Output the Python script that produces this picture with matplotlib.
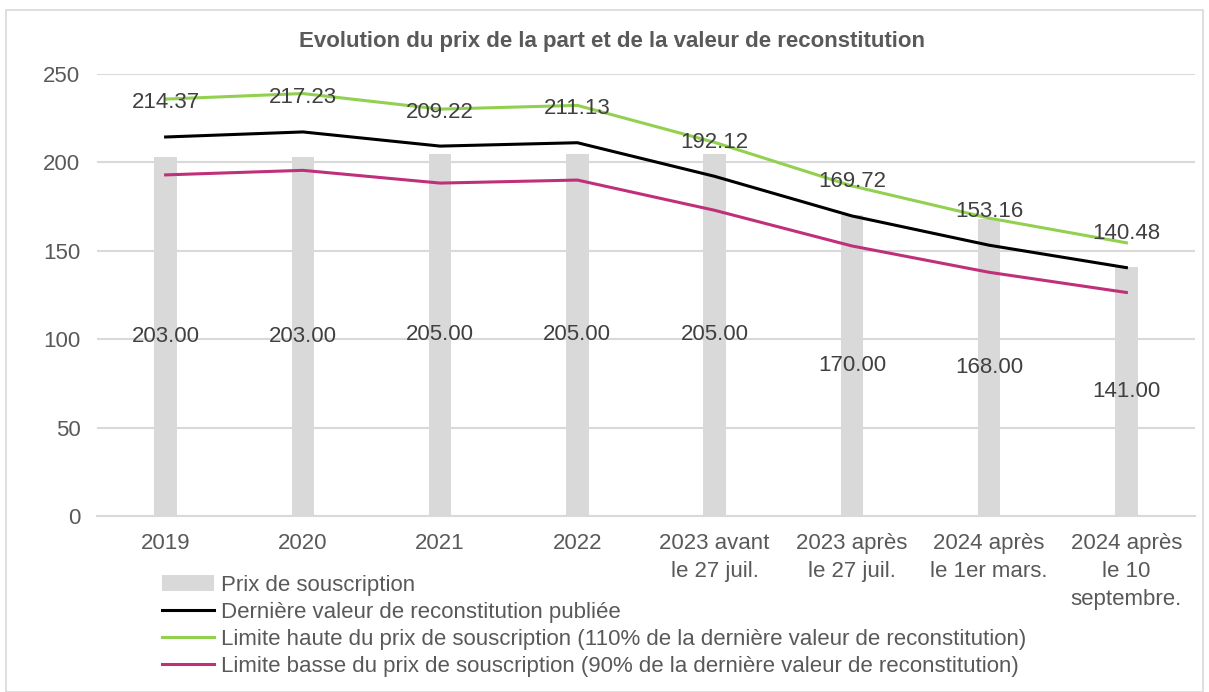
import matplotlib
matplotlib.use("Agg")
import matplotlib.pyplot as plt
import numpy as np

plt.rcParams['font.family'] = ['Liberation Sans', 'DejaVu Sans']

categories = ["2019", "2020", "2021", "2022", "2023 avant\nle 27 juil.",
              "2023 après\nle 27 juil.", "2024 après\nle 1er mars.",
              "2024 après\nle 10\nseptembre."]
prix_souscription = [203.00, 203.00, 205.00, 205.00, 205.00, 170.00, 168.00, 141.00]
valeur_reconstitution = [214.37, 217.23, 209.22, 211.13, 192.12, 169.72, 153.16, 140.48]
limite_haute = [v * 1.10 for v in valeur_reconstitution]
limite_basse = [v * 0.90 for v in valeur_reconstitution]

fig = plt.figure(figsize=(12.09, 6.92), dpi=100)
ax = fig.add_axes([97/1209, 1-516/692, 1098/1209, (516-74)/692])

x = np.arange(len(categories))
ax.bar(x, prix_souscription, width=0.165, color='#d9d9d9', zorder=2,
       label='Prix de souscription')
ax.plot(x, valeur_reconstitution, color='black', lw=2.2, zorder=3,
        label='Dernière valeur de reconstitution publiée')
ax.plot(x, limite_haute, color='#92d050', lw=2.2, zorder=3,
        label='Limite haute du prix de souscription (110% de la dernière valeur de reconstitution)')
ax.plot(x, limite_basse, color='#c0307a', lw=2.2, zorder=3,
        label='Limite basse du prix de souscription (90% de la dernière valeur de reconstitution)')

for xi, v in zip(x, prix_souscription):
    ax.text(xi, v / 2, f"{v:.2f}", ha='center', va='center', fontsize=16,
            color='#404040', zorder=4)
for xi, v in zip(x, valeur_reconstitution):
    ax.annotate(f"{v:.2f}", (xi, v), xytext=(0, 24.5), textcoords='offset points',
                ha='center', va='center', fontsize=16, color='#404040', zorder=4)

ax.set_xlim(-0.5, len(categories) - 0.5)
ax.set_ylim(0, 250)
ax.set_yticks([0, 50, 100, 150, 200, 250])
ax.set_xticks(x)
ax.set_xticklabels(categories, fontsize=16, color='#595959', va='top', linespacing=1.45)
ax.tick_params(axis='y', labelsize=16, labelcolor='#595959', length=0, pad=12)
ax.tick_params(axis='x', length=0, pad=12)
ax.grid(axis='y', color='#d9d9d9', lw=1.5, zorder=0)
for s in ['top', 'right', 'left']:
    ax.spines[s].set_visible(False)
ax.spines['bottom'].set_color('#d9d9d9')
ax.spines['bottom'].set_linewidth(1.5)
ax.set_axisbelow(True)

fig.text(612/1209, 1 - 42/692, "Evolution du prix de la part et de la valeur de reconstitution",
         ha='center', va='center', fontsize=16, fontweight='bold', color='#595959')

handles, labels = ax.get_legend_handles_labels()
order = [3, 0, 1, 2]
fig.legend([handles[i] for i in order], [labels[i] for i in order],
           loc='upper left', bbox_to_anchor=(162/1209, 1 - 575/692),
           frameon=False, fontsize=16, labelcolor='#595959',
           handlelength=2.35, handletextpad=0.3, labelspacing=0.27,
           borderaxespad=0, borderpad=0)

border = plt.Rectangle((6/1209, 0), 1197/1209, 1 - 10/692, transform=fig.transFigure,
                       fill=False, edgecolor='#d9d9d9', lw=1.2)
fig.add_artist(border)

fig.savefig("out.png", dpi=100, facecolor='white')
